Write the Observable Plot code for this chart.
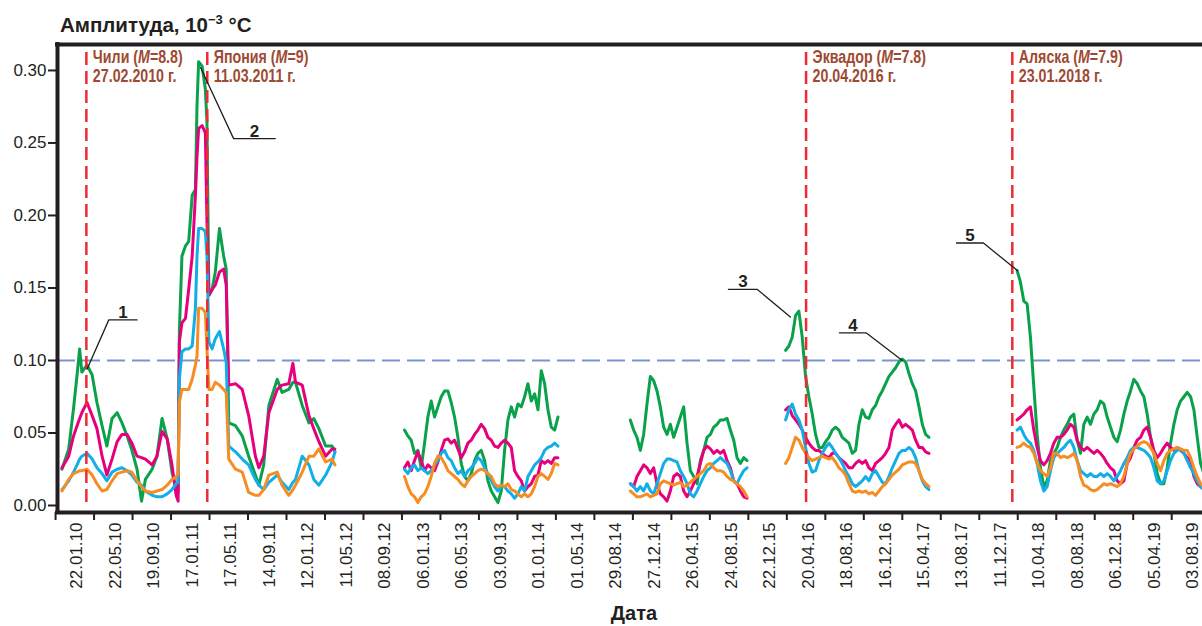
<!DOCTYPE html>
<html><head><meta charset="utf-8">
<script src="https://cdn.jsdelivr.net/npm/d3@7"></script>
<script src="https://cdn.jsdelivr.net/npm/@observablehq/plot@0.6"></script>
<style>
body{margin:0;background:#fff;}
#chart{width:1202px;height:626px;overflow:hidden;}
</style></head><body><div id="chart"></div>
<script>
// ---------- axis labels ----------
const tickLabels = ["22.01.10","22.05.10","19.09.10","17.01.11","17.05.11","14.09.11","12.01.12","11.05.12","08.09.12","06.01.13","06.05.13","03.09.13","01.01.14","01.05.14","29.08.14","27.12.14","26.04.15","24.08.15","22.12.15","20.04.16","18.08.16","16.12.16","15.04.17","13.08.17","11.12.17","10.04.18","08.08.18","06.12.18","05.04.19","03.08.19"];
const yTicks = [0, 0.05, 0.10, 0.15, 0.20, 0.25, 0.30];
const threshold = 0.10;

// ---------- earthquakes ----------
const quakeDates = ["2010-02-27","2011-03-11","2016-04-20","2018-01-23"];
const quakeNames = ["Чили","Япония","Эквадор","Аляска"];
const quakeMagnitudes = ["8.8","9","7.8","7.9"];
const quakeDateLabels = ["27.02.2010 г.","11.03.2011 г.","20.04.2016 г.","23.01.2018 г."];

// ---------- numbered callouts ----------
const calloutNumbers = ["1","2","3","4","5"];
const calloutPointDates = ["2010-03-01","2011-02-18","2016-03-02","2017-02-14","2018-02-08"];
const calloutPointValues = [0.094,0.302,0.130,0.100,0.162];
const calloutElbowDates = ["2010-05-08","2011-06-01","2015-11-20","2016-10-25","2017-10-25"];
const calloutElbowValues = [0.128,0.253,0.149,0.119,0.181];
const calloutEndDates = ["2010-08-04","2011-10-09","2015-08-22","2016-08-02","2017-08-02"];

// ---------- series ----------
const seriesNames = ["ряд 1","ряд 2","ряд 3","ряд 4"];
const seriesColors = ["#0aa14b","#e6007e","#12aee8","#f68d22"];
const stepDays = 10.4;

// segment A: irregular day offsets from start
const segAStart = "2009-12-13";
const segAOffsets = [0,21,36,47,55,62,78,94,109,125,140,156,172,187,203,218,234,248,260,281,296,312,328,343,356,362,366,374,385,395,406,416,421,426,437,447,452,458,468,478,491,504,512,520,541,562,582,603,614,629,645,671,686,707,720,728,749,770,785,801,822,842,851];
const segAGreen = [0.025,0.039,0.067,0.090,0.108,0.092,0.097,0.090,0.071,0.055,0.041,0.060,0.064,0.057,0.048,0.038,0.025,0.003,0.018,0.025,0.034,0.060,0.046,0.023,0.011,0.009,0.120,0.172,0.179,0.182,0.214,0.218,0.276,0.306,0.303,0.287,0.264,0.145,0.149,0.161,0.191,0.172,0.163,0.057,0.055,0.048,0.034,0.021,0.014,0.028,0.069,0.087,0.078,0.080,0.085,0.085,0.069,0.057,0.060,0.053,0.041,0.041,0.037];
const segAMagenta = [0.026,0.034,0.048,0.055,0.060,0.064,0.071,0.062,0.053,0.034,0.021,0.032,0.044,0.049,0.049,0.043,0.034,0.033,0.032,0.028,0.034,0.051,0.046,0.028,0.007,0.003,0.113,0.126,0.129,0.149,0.172,0.214,0.241,0.260,0.262,0.257,0.195,0.145,0.149,0.152,0.161,0.163,0.152,0.083,0.084,0.080,0.062,0.034,0.026,0.034,0.064,0.080,0.083,0.084,0.098,0.085,0.083,0.062,0.053,0.044,0.034,0.039,0.039];
const segACyan = [0.011,0.017,0.023,0.028,0.032,0.034,0.036,0.032,0.026,0.022,0.017,0.023,0.025,0.026,0.024,0.021,0.016,0.014,0.010,0.007,0.006,0.006,0.008,0.011,0.015,0.016,0.087,0.106,0.108,0.108,0.110,0.136,0.172,0.191,0.191,0.189,0.172,0.113,0.108,0.115,0.120,0.108,0.099,0.041,0.037,0.032,0.028,0.018,0.014,0.011,0.016,0.021,0.016,0.011,0.016,0.018,0.034,0.028,0.018,0.014,0.021,0.030,0.037];
const segAOrange = [0.010,0.018,0.022,0.023,0.024,0.024,0.025,0.021,0.015,0.010,0.011,0.017,0.022,0.023,0.024,0.023,0.017,0.013,0.010,0.009,0.010,0.011,0.014,0.018,0.020,0.021,0.071,0.080,0.080,0.080,0.087,0.097,0.103,0.136,0.136,0.133,0.108,0.080,0.080,0.085,0.083,0.080,0.078,0.032,0.025,0.023,0.009,0.007,0.007,0.011,0.021,0.023,0.014,0.007,0.011,0.014,0.023,0.034,0.034,0.039,0.030,0.032,0.028];

// segment B: regular step
const segBStart = "2012-11-15";
const segBGreen = [0.052,0.048,0.045,0.036,0.038,0.026,0.043,0.061,0.072,0.061,0.068,0.075,0.079,0.079,0.071,0.061,0.047,0.029,0.020,0.017,0.022,0.031,0.036,0.038,0.031,0.017,0.010,0.006,0.002,0.010,0.038,0.059,0.068,0.061,0.070,0.068,0.075,0.084,0.072,0.077,0.066,0.093,0.084,0.066,0.054,0.052,0.061];
const segBMagenta = [0.026,0.030,0.024,0.031,0.037,0.031,0.024,0.028,0.026,0.024,0.030,0.038,0.045,0.046,0.043,0.045,0.039,0.033,0.037,0.043,0.045,0.049,0.052,0.056,0.053,0.047,0.045,0.041,0.040,0.043,0.045,0.043,0.040,0.024,0.020,0.017,0.010,0.013,0.015,0.020,0.021,0.031,0.029,0.031,0.029,0.033,0.033];
const segBCyan = [0.025,0.022,0.026,0.028,0.024,0.026,0.024,0.022,0.024,0.028,0.031,0.036,0.038,0.033,0.031,0.026,0.022,0.024,0.020,0.024,0.026,0.029,0.033,0.031,0.026,0.022,0.017,0.013,0.010,0.013,0.013,0.010,0.008,0.005,0.008,0.013,0.010,0.020,0.024,0.028,0.030,0.033,0.038,0.040,0.041,0.043,0.041];
const segBOrange = [0.020,0.013,0.008,0.006,0.002,0.006,0.008,0.013,0.020,0.029,0.034,0.033,0.029,0.024,0.022,0.020,0.018,0.015,0.013,0.017,0.020,0.022,0.024,0.025,0.024,0.022,0.020,0.015,0.013,0.014,0.013,0.015,0.011,0.010,0.008,0.006,0.008,0.006,0.008,0.013,0.020,0.022,0.020,0.018,0.022,0.029,0.028];

// segment C
const segCStart = "2014-10-20";
const segCGreen = [0.059,0.052,0.047,0.038,0.049,0.070,0.089,0.086,0.079,0.068,0.054,0.049,0.056,0.047,0.054,0.061,0.068,0.043,0.024,0.020,0.015,0.031,0.038,0.047,0.049,0.054,0.056,0.059,0.059,0.060,0.052,0.045,0.033,0.029,0.033,0.031];
const segCMagenta = [0.015,0.013,0.020,0.024,0.028,0.026,0.022,0.026,0.015,0.008,0.006,0.003,0.010,0.020,0.022,0.020,0.010,0.006,0.010,0.015,0.020,0.029,0.038,0.041,0.039,0.036,0.038,0.036,0.038,0.031,0.026,0.017,0.015,0.010,0.006,0.005];
const segCCyan = [0.015,0.013,0.010,0.013,0.010,0.015,0.010,0.008,0.015,0.022,0.029,0.032,0.032,0.031,0.030,0.024,0.020,0.015,0.008,0.006,0.010,0.015,0.020,0.024,0.026,0.029,0.031,0.033,0.031,0.029,0.024,0.017,0.015,0.020,0.024,0.026];
const segCOrange = [0.010,0.008,0.006,0.006,0.007,0.008,0.006,0.007,0.008,0.015,0.017,0.016,0.015,0.014,0.015,0.016,0.013,0.014,0.016,0.018,0.020,0.022,0.024,0.028,0.029,0.026,0.024,0.024,0.023,0.020,0.018,0.017,0.015,0.013,0.010,0.006];

// segment D
const segDStart = "2016-02-16";
const segDGreen = [0.107,0.110,0.116,0.131,0.134,0.116,0.089,0.075,0.063,0.049,0.040,0.040,0.044,0.047,0.052,0.054,0.052,0.047,0.045,0.043,0.036,0.038,0.056,0.066,0.061,0.060,0.066,0.069,0.075,0.079,0.084,0.089,0.092,0.095,0.099,0.101,0.099,0.091,0.084,0.079,0.068,0.056,0.049,0.047];
const segDMagenta = [0.066,0.068,0.062,0.059,0.056,0.052,0.047,0.043,0.040,0.038,0.038,0.036,0.034,0.033,0.036,0.036,0.033,0.031,0.029,0.026,0.026,0.029,0.031,0.029,0.031,0.026,0.024,0.029,0.031,0.033,0.036,0.040,0.052,0.056,0.059,0.054,0.056,0.054,0.052,0.045,0.040,0.040,0.037,0.036];
const segDCyan = [0.059,0.066,0.070,0.063,0.059,0.052,0.040,0.029,0.023,0.024,0.031,0.036,0.040,0.043,0.040,0.036,0.033,0.029,0.024,0.020,0.015,0.013,0.015,0.017,0.020,0.017,0.022,0.024,0.020,0.016,0.015,0.020,0.026,0.031,0.036,0.038,0.038,0.040,0.038,0.033,0.024,0.017,0.013,0.011];
const segDOrange = [0.029,0.033,0.040,0.047,0.045,0.040,0.036,0.033,0.031,0.032,0.033,0.034,0.033,0.032,0.033,0.030,0.026,0.024,0.021,0.015,0.010,0.009,0.010,0.009,0.010,0.008,0.009,0.007,0.010,0.013,0.015,0.018,0.021,0.023,0.025,0.028,0.029,0.030,0.030,0.029,0.024,0.018,0.015,0.013];

// segment E
const segEStart = "2018-02-07";
const segEGreen = [0.162,0.154,0.141,0.139,0.116,0.082,0.049,0.026,0.013,0.017,0.031,0.036,0.040,0.047,0.052,0.056,0.061,0.063,0.045,0.036,0.056,0.061,0.056,0.063,0.066,0.072,0.070,0.061,0.054,0.047,0.044,0.052,0.063,0.072,0.079,0.087,0.084,0.079,0.075,0.063,0.047,0.036,0.022,0.015,0.015,0.026,0.043,0.056,0.066,0.072,0.075,0.078,0.075,0.066,0.047,0.029,0.022];
const segEMagenta = [0.059,0.061,0.063,0.066,0.068,0.052,0.040,0.031,0.028,0.031,0.036,0.043,0.047,0.047,0.049,0.052,0.056,0.054,0.045,0.040,0.038,0.040,0.038,0.036,0.038,0.036,0.033,0.029,0.026,0.024,0.017,0.015,0.017,0.029,0.033,0.040,0.045,0.047,0.052,0.054,0.047,0.038,0.033,0.036,0.040,0.043,0.040,0.038,0.040,0.038,0.036,0.033,0.031,0.020,0.015,0.013,0.011];
const segECyan = [0.052,0.054,0.049,0.045,0.043,0.038,0.029,0.017,0.010,0.013,0.024,0.033,0.036,0.038,0.040,0.043,0.045,0.040,0.031,0.024,0.022,0.020,0.022,0.020,0.020,0.022,0.020,0.022,0.020,0.017,0.020,0.024,0.029,0.033,0.038,0.040,0.040,0.039,0.038,0.036,0.033,0.026,0.017,0.015,0.017,0.024,0.031,0.036,0.038,0.039,0.036,0.031,0.026,0.022,0.017,0.013,0.011];
const segEOrange = [0.040,0.041,0.043,0.041,0.040,0.036,0.029,0.024,0.022,0.020,0.026,0.036,0.036,0.033,0.034,0.033,0.034,0.036,0.031,0.020,0.014,0.013,0.011,0.010,0.011,0.013,0.015,0.014,0.015,0.014,0.013,0.015,0.020,0.029,0.036,0.039,0.041,0.043,0.044,0.043,0.040,0.036,0.029,0.024,0.031,0.036,0.038,0.039,0.040,0.039,0.038,0.038,0.033,0.026,0.020,0.015,0.013];

// ---------- build table ----------
const utc = s => new Date(s + "T00:00:00Z");
const regularDates = (start, n) => d3.range(n).map(i => new Date(utc(start).getTime() + i * stepDays * 864e5));
const segments = [
  {id: "A", dates: segAOffsets.map(o => d3.utcDay.offset(utc(segAStart), o)), values: [segAGreen, segAMagenta, segACyan, segAOrange]},
  {id: "B", dates: regularDates(segBStart, segBGreen.length), values: [segBGreen, segBMagenta, segBCyan, segBOrange]},
  {id: "C", dates: regularDates(segCStart, segCGreen.length), values: [segCGreen, segCMagenta, segCCyan, segCOrange]},
  {id: "D", dates: regularDates(segDStart, segDGreen.length), values: [segDGreen, segDMagenta, segDCyan, segDOrange]},
  {id: "E", dates: regularDates(segEStart, segEGreen.length), values: [segEGreen, segEMagenta, segECyan, segEOrange]}
];
const rows = [];
seriesNames.forEach((s, si) => {
  segments.forEach(seg => {
    seg.dates.forEach((d, i) => rows.push({date: d, value: seg.values[si][i], series: s, key: s + seg.id}));
  });
});

const parseTick = d3.utcParse("%d.%m.%y");
const tickDates = tickLabels.map(parseTick);
const tickMarks = tickDates.map(d => d3.utcDay.offset(d, -60));
const quakes = quakeDates.map((d, i) => ({date: utc(d), name: quakeNames[i], mag: quakeMagnitudes[i], label: quakeDateLabels[i]}));
const callouts = calloutNumbers.map((n, i) => ({
  n,
  p: {date: utc(calloutPointDates[i]), value: calloutPointValues[i]},
  e: {date: utc(calloutElbowDates[i]), value: calloutElbowValues[i]},
  f: {date: utc(calloutEndDates[i]), value: calloutElbowValues[i]}
}));
const calloutPaths = callouts.flatMap(c => [c.p, c.e, c.f].map(pt => ({...pt, n: c.n})));
const calloutLabels = callouts.map(c => ({n: c.n, value: c.e.value, date: new Date((c.e.date.getTime() + c.f.date.getTime()) / 2)}));

const xDomain = [utc("2009-11-29"), utc("2019-09-08")];
const yDomain = [-0.00483, 0.3179];
const ink = "#231f20";

const plot = Plot.plot({
  width: 1202, height: 626,
  marginLeft: 57, marginRight: 0, marginTop: 44, marginBottom: 114,
  style: {fontFamily: "'Liberation Sans', Arial, sans-serif", fontSize: "17px", color: ink, background: "#fff"},
  x: {type: "utc", domain: xDomain, axis: null, label: null},
  y: {domain: yDomain, axis: null, label: null},
  color: {type: "ordinal", domain: seriesNames, range: seriesColors},
  marks: [
    Plot.ruleY([threshold], {stroke: "#7b93d1", strokeWidth: 2, strokeDasharray: "18,7"}),
    Plot.line(rows, {x: "date", y: "value", z: "key", stroke: "series", strokeWidth: 3, strokeLinejoin: "round", clip: true}),
    Plot.ruleX(quakes, {x: "date", stroke: "#ee2a32", strokeWidth: 2.5, strokeDasharray: "13,6", insetTop: 8, insetBottom: 7}),
    Plot.line(calloutPaths, {x: "date", y: "value", z: "n", stroke: ink, strokeWidth: 1.3}),
    Plot.text(calloutLabels, {x: "date", y: "value", text: "n", lineAnchor: "bottom", dy: -2, fontWeight: "bold", fontSize: 17, fill: ink}),
    Plot.axisY(yTicks, {anchor: "left", tickSize: 9, tickPadding: 2, tickFormat: d3.format(".2f"), fontSize: 17, strokeWidth: 2, label: null}),
    Plot.axisX(tickMarks, {anchor: "bottom", tickSize: 8, tickFormat: () => "", strokeWidth: 2, label: null}),
    Plot.text(tickDates, {x: d => d, frameAnchor: "bottom", dx: 2, dy: 10, rotate: -90, textAnchor: "end", lineAnchor: "middle", text: (d, i) => tickLabels[i], fontSize: 17, fill: ink}),
    Plot.ruleX([xDomain[0]], {stroke: ink, strokeWidth: 4, strokeLinecap: "square"}),
    Plot.ruleY([yDomain[1]], {stroke: ink, strokeWidth: 4, strokeLinecap: "square"}),
    Plot.ruleY([yDomain[0]], {stroke: ink, strokeWidth: 4, strokeLinecap: "square"})
  ]
});
document.getElementById("chart").appendChild(plot);

const svg = d3.select(plot);
const xs = plot.scale("x");
const brown = "#9e4a32";
quakes.forEach(q => {
  const x = xs.apply(q.date) + 7;
  const g = svg.append("g").attr("transform", `translate(${x},0) scale(0.79,1)`)
    .attr("fill", brown).attr("font-weight", "bold").attr("font-size", 18)
    .attr("font-family", "'Liberation Sans', Arial, sans-serif").attr("text-anchor", "start");
  const t1 = g.append("text").attr("x", 0).attr("y", 63);
  t1.append("tspan").text(q.name + " (");
  t1.append("tspan").attr("font-style", "italic").text("M");
  t1.append("tspan").text("=" + q.mag + ")");
  g.append("text").attr("x", 0).attr("y", 82).text(q.label);
});
const title = svg.append("text").attr("x", 60).attr("y", 32).attr("fill", ink)
  .attr("text-anchor", "start").attr("font-weight", "bold").attr("font-size", 20.5);
title.append("tspan").text("Амплитуда, 10");
title.append("tspan").attr("font-size", 13).attr("dy", -8).text("−3");
title.append("tspan").attr("dy", 8).text(" °C");
svg.append("text").attr("x", 634).attr("y", 620).attr("text-anchor", "middle")
  .attr("fill", ink).attr("font-weight", "bold").attr("font-size", 20).text("Дата");
</script>
</body></html>
